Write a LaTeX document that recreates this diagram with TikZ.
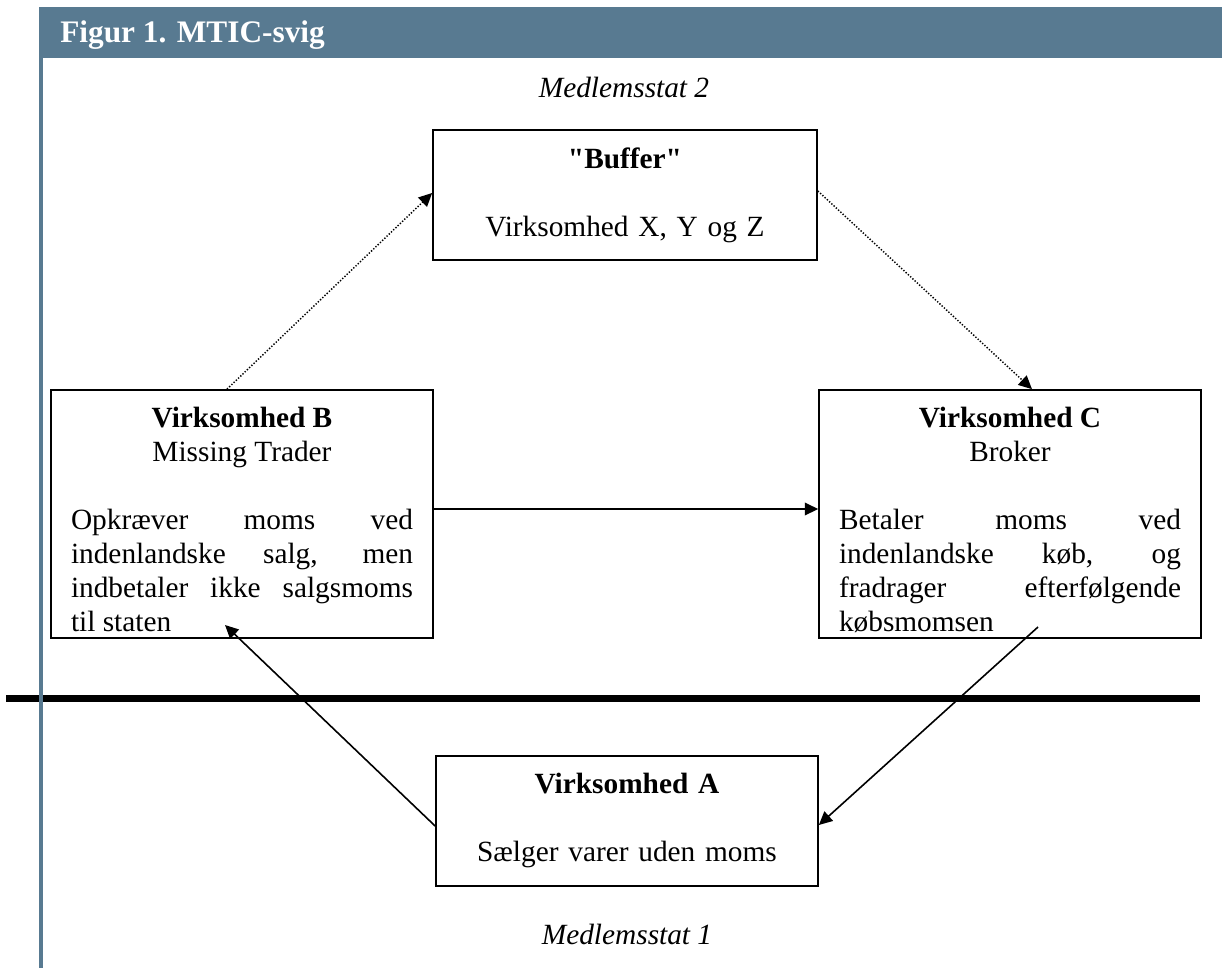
\documentclass[tikz,border=0pt]{standalone}
\usepackage{fontspec}
\setmainfont{Liberation Serif}
\usetikzlibrary{arrows.meta,positioning,calc}
\definecolor{headblue}{RGB}{88,122,145}
\setlength{\parindent}{0pt}

\begin{document}
\begin{tikzpicture}[x=0.75pt,y=-0.75pt,
  firm/.style={draw,line width=1.3pt,minimum width=286.5pt,inner sep=0pt},
  firmtext/.style={inner sep=0pt,text width=256.5pt,font=\fontsize{22}{25.5}\selectfont},
  state/.style={inner sep=0pt,anchor=base,font=\itshape\fontsize{22}{25.5}\selectfont},
  flow/.style={line width=1.2pt,-{Triangle[length=10pt,width=9.5pt]}},
  hidden/.style={flow,line width=1.1pt,dash pattern=on 1pt off 1.3pt}]
\useasboundingbox (0,0) rectangle (1222,968);

%%%%% the boxes
\node[firm,minimum width=288pt,minimum height=97.5pt] (X) at (625,195) {};
\node[firm,minimum height=186pt] (B) at (242,514) {};
\node[firm,minimum height=186pt] (C) at (1010,514) {};
\node[firm,minimum height=97.5pt] (A) at (627,821) {};

\node[firmtext,align=center,below=13.5pt of X.north] (Xtext) {\textbf{\textquotedbl Buffer\textquotedbl}\\[25.5pt] Virksomhed X, Y og Z};
\node[firmtext,align=justify,below=13.5pt of B.north] (Btext) {{\centering\textbf{Virksomhed B}\\ Missing Trader\par}\vspace{25.5pt}Opkræver moms ved\linebreak indenlandske salg, men\linebreak indbetaler ikke salgsmoms\linebreak til staten};
\node[firmtext,align=justify,below=13.5pt of C.north] (Ctext) {{\centering\textbf{Virksomhed C}\\ Broker\par}\vspace{25.5pt}Betaler moms ved\linebreak indenlandske køb, og\linebreak fradrager efterfølgende\linebreak købsmomsen};
\node[firmtext,align=center,below=13.5pt of A.north] (Atext) {\textbf{Virksomhed A}\\[25.5pt] Sælger varer uden moms};

\node[state] (stat2) at (624,97) {Medlemsstat 2};
\node[state] (stat1) at (627,944) {Medlemsstat 1};

%%%%% the flows
\coordinate (Cexit) at (1038,627);
\coordinate (Bentry) at (225,625);
\draw[hidden] ($(B.north)+(-15,0)$) -- ($(X.west)+(0,-2)$);
\draw[hidden] ($(X.east)+(0,-4)$) -- ($(C.north)+(22,0)$);
\draw[flow] ($(B.east)+(0,-5)$) -- ($(C.west)+(0,-5)$);
\draw[flow] (Cexit) -- ($(A.east)+(0,4)$);
\draw[flow] ($(A.west)+(0,5)$) -- (Bentry);

%%%%% border line and frame
\draw[line width=5.25pt] (6,698) -- (1200,698);
\draw[headblue,line width=3pt] (41.3,7) -- (41.3,968);
\fill[headblue] (39,7) rectangle (1222,58);
\node[anchor=base west,inner sep=0pt,text=white,font=\bfseries\fontsize{23.5}{27}\selectfont] (title) at (60,42) {Figur 1. MTIC-svig};
\end{tikzpicture}
\end{document}
